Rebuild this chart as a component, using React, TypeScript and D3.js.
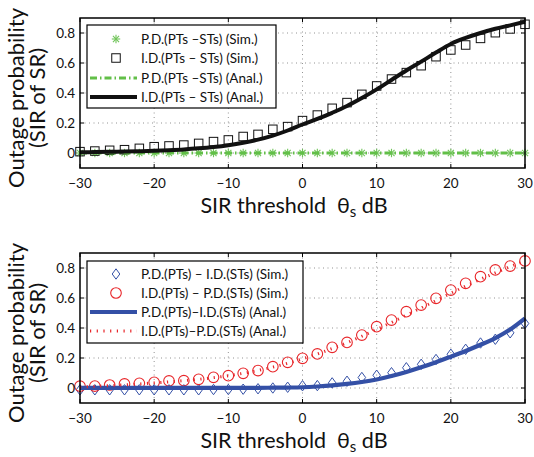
import React from "react";
import * as d3 from "d3";

const thetaDb = [-30, -28, -26, -24, -22, -20, -18, -16, -14, -12, -10, -8, -6, -4, -2, 0, 2, 4, 6, 8, 10, 12, 14, 16, 18, 20, 22, 24, 26, 28, 30];

// Top panel
const pdSimTop = [0, 0, 0, 0, 0, 0, 0, 0, 0, 0, 0, 0, 0, 0, 0, 0, 0, 0, 0, 0, 0, 0, 0, 0, 0, 0, 0, 0, 0, 0, 0];
const idSimTop = [0.009, 0.013, 0.018, 0.022, 0.031, 0.042, 0.047, 0.053, 0.064, 0.076, 0.087, 0.11, 0.124, 0.158, 0.176, 0.216, 0.253, 0.298, 0.336, 0.391, 0.447, 0.493, 0.536, 0.582, 0.642, 0.687, 0.72, 0.764, 0.802, 0.827, 0.858];
const pdAnalTop = [0, 0, 0, 0, 0, 0, 0, 0, 0, 0, 0, 0, 0, 0, 0, 0, 0, 0, 0, 0, 0, 0, 0, 0, 0, 0, 0, 0, 0, 0, 0];
const idAnalTop = [0.005, 0.006, 0.008, 0.01, 0.012, 0.015, 0.019, 0.024, 0.031, 0.04, 0.052, 0.068, 0.089, 0.116, 0.15, 0.19, 0.227, 0.268, 0.313, 0.366, 0.424, 0.487, 0.55, 0.609, 0.67, 0.727, 0.767, 0.8, 0.828, 0.851, 0.875];

// Bottom panel
const pdIdSim = [-0.012, -0.012, -0.012, -0.012, -0.012, -0.012, -0.012, -0.012, -0.012, -0.01, -0.01, -0.008, -0.005, 0.0, 0.005, 0.015, 0.016, 0.034, 0.045, 0.07, 0.085, 0.102, 0.135, 0.158, 0.19, 0.225, 0.258, 0.3, 0.325, 0.368, 0.43];
const idPdSim = [0.012, 0.013, 0.02, 0.027, 0.031, 0.038, 0.047, 0.049, 0.058, 0.071, 0.082, 0.098, 0.116, 0.142, 0.171, 0.198, 0.227, 0.271, 0.304, 0.353, 0.409, 0.453, 0.509, 0.553, 0.598, 0.653, 0.698, 0.742, 0.787, 0.813, 0.847];
const pdIdAnal = [0.001, 0.001, 0.001, 0.001, 0.001, 0.001, 0.001, 0.001, 0.001, 0.001, 0.001, 0.001, 0.001, 0.002, 0.003, 0.005, 0.01, 0.017, 0.027, 0.04, 0.057, 0.08, 0.107, 0.138, 0.172, 0.209, 0.247, 0.288, 0.333, 0.39, 0.464];
const idPdAnal = [0.007, 0.011, 0.016, 0.021, 0.027, 0.034, 0.041, 0.049, 0.058, 0.069, 0.082, 0.098, 0.117, 0.139, 0.165, 0.194, 0.227, 0.263, 0.302, 0.345, 0.39, 0.437, 0.485, 0.534, 0.583, 0.632, 0.679, 0.725, 0.768, 0.809, 0.847];

const xTicks = [-30, -20, -10, 0, 10, 20, 30];
const yTicks = [0, 0.2, 0.4, 0.6, 0.8];
const xDomain = [-30, 30];
const yDomain = [-0.1, 0.9];

const topLegend = ["P.D.(PTs \u2013STs) (Sim.)", "I.D.(PTs \u2013 STs) (Sim.)", "P.D.(PTs \u2013STs) (Anal.)", "I.D.(PTs \u2013 STs) (Anal.)"];
const bottomLegend = ["P.D.(PTs) \u2013 I.D.(STs) (Sim.)", "I.D.(PTs) \u2013 P.D.(STs) (Sim.)", "P.D.(PTs)\u2013I.D.(STs) (Anal.)", "I.D.(PTs)\u2013P.D.(STs) (Anal.)"];

const FONT = "Lato, 'Open Sans', sans-serif";
const GREEN = "#62bf48";
const BLUE = "#3450a6";
const RED = "#e8262a";

const W = 534;
const H = 457;
const LEFT = 80;
const RIGHT = 525;

type MarkerKind = "star" | "square" | "diamond" | "circle";

function Marker({ kind, x, y }: { kind: MarkerKind; x: number; y: number }) {
  if (kind === "star") {
    const r = 4.2;
    const d = r * 0.72;
    return (
      <g stroke={GREEN} strokeWidth={1.1} opacity={0.9}>
        <line x1={x - r} y1={y} x2={x + r} y2={y} />
        <line x1={x} y1={y - r} x2={x} y2={y + r} />
        <line x1={x - d} y1={y - d} x2={x + d} y2={y + d} />
        <line x1={x - d} y1={y + d} x2={x + d} y2={y - d} />
      </g>
    );
  }
  if (kind === "square") {
    const s = 8.5;
    return <rect x={x - s / 2} y={y - s / 2} width={s} height={s} fill="none" stroke="#111" strokeWidth={1} />;
  }
  if (kind === "diamond") {
    const w = 3.8;
    const h = 5.2;
    return <path d={`M${x},${y - h}L${x + w},${y}L${x},${y + h}L${x - w},${y}Z`} fill="none" stroke={BLUE} strokeWidth={1} />;
  }
  return <circle cx={x} cy={y} r={5.3} fill="none" stroke={RED} strokeWidth={1.1} />;
}

type Series =
  | { type: "marker"; kind: MarkerKind; values: number[] }
  | { type: "line"; values: number[]; color: string; width: number; dash?: string };

function Panel({ top, bottom, series, legend, legendBox }: {
  top: number;
  bottom: number;
  series: Series[];
  legend: string[];
  legendBox: { x: number; y: number; w: number; h: number; rows: number[] };
}) {
  const x = d3.scaleLinear().domain(xDomain).range([LEFT, RIGHT]);
  const y = d3.scaleLinear().domain(yDomain).range([bottom, top]);
  const lineGen = (vals: number[]) =>
    d3.line<number>().x((_, i) => x(thetaDb[i])).y((v) => y(v)).curve(d3.curveMonotoneX)(vals) || "";

  return (
    <g>
      {/* grid */}
      <g stroke="#777" strokeWidth={0.8} strokeDasharray="1,3.5">
        {xTicks.slice(1, -1).map((t) => (
          <line key={"gx" + t} x1={x(t)} x2={x(t)} y1={top} y2={bottom} />
        ))}
        {yTicks.map((t) => (
          <line key={"gy" + t} x1={LEFT} x2={RIGHT} y1={y(t)} y2={y(t)} />
        ))}
      </g>
      {/* ticks */}
      <g stroke="#000" strokeWidth={1}>
        {xTicks.map((t) => (
          <g key={"tx" + t}>
            <line x1={x(t)} x2={x(t)} y1={bottom} y2={bottom - 4} />
            <line x1={x(t)} x2={x(t)} y1={top} y2={top + 4} />
          </g>
        ))}
        {yTicks.map((t) => (
          <g key={"ty" + t}>
            <line x1={LEFT} x2={LEFT + 4} y1={y(t)} y2={y(t)} />
            <line x1={RIGHT} x2={RIGHT - 4} y1={y(t)} y2={y(t)} />
          </g>
        ))}
      </g>
      {/* series */}
      {series.map((s, si) =>
        s.type === "line" ? (
          <path key={si} d={lineGen(s.values)} fill="none" stroke={s.color} strokeWidth={s.width} strokeDasharray={s.dash} />
        ) : (
          <g key={si}>
            {s.values.map((v, i) => (
              <Marker key={i} kind={s.kind} x={x(thetaDb[i])} y={y(v)} />
            ))}
          </g>
        )
      )}
      {/* frame */}
      <rect x={LEFT} y={top} width={RIGHT - LEFT} height={bottom - top} fill="none" stroke="#000" strokeWidth={1.5} />
      {/* tick labels */}
      <g fontFamily={FONT} fontSize={13.5} fill="#111">
        {xTicks.map((t) => (
          <text key={"lx" + t} x={x(t)} y={bottom + 20} textAnchor="middle">
            {t < 0 ? "\u2212" + Math.abs(t) : String(t)}
          </text>
        ))}
        {yTicks.map((t) => (
          <text key={"ly" + t} x={LEFT - 5} y={y(t) + 4.8} textAnchor="end">
            {t === 0 ? "0" : t.toFixed(1)}
          </text>
        ))}
      </g>
      {/* legend */}
      <rect x={legendBox.x} y={legendBox.y} width={legendBox.w} height={legendBox.h} fill="#fff" stroke="#000" strokeWidth={1.2} />
      {legend.map((label, i) => {
        const s = series[i];
        const ry = legendBox.rows[i];
        const mx = legendBox.x + 29;
        return (
          <g key={"lg" + i}>
            {s.type === "marker" ? (
              <Marker kind={s.kind} x={mx} y={ry} />
            ) : (
              <line x1={legendBox.x + 3} x2={legendBox.x + 50} y1={ry} y2={ry} stroke={s.color} strokeWidth={s.width} strokeDasharray={s.dash} />
            )}
            <text x={legendBox.x + 54} y={ry + 4.8} fontFamily={FONT} fontSize={13.5} fill="#111">
              {label}
            </text>
          </g>
        );
      })}
      {/* x label */}
      <text x={294} y={bottom + 45} textAnchor="middle" fontFamily={FONT} fontSize={21.5} fill="#111">
        SIR threshold{"\u2002"}θ
        <tspan fontSize={15} dy={4}>s</tspan>
        <tspan dy={-4}> dB</tspan>
      </text>
      {/* y label */}
      <g transform={`translate(24, ${(top + bottom) / 2 + 5}) rotate(-90)`}>
        <text x={0} y={0} textAnchor="middle" fontFamily={FONT} fontSize={22} fill="#111">
          Outage probability
        </text>
        <text x={0} y={21} textAnchor="middle" fontFamily={FONT} fontSize={22} fill="#111">
          (SIR of SR)
        </text>
      </g>
    </g>
  );
}

export default function App() {
  const topSeries: Series[] = [
    { type: "marker", kind: "star", values: pdSimTop },
    { type: "marker", kind: "square", values: idSimTop },
    { type: "line", values: pdAnalTop, color: GREEN, width: 3, dash: "7,3,1.5,3" },
    { type: "line", values: idAnalTop, color: "#111", width: 4 },
  ];
  const bottomSeries: Series[] = [
    { type: "marker", kind: "diamond", values: pdIdSim },
    { type: "marker", kind: "circle", values: idPdSim },
    { type: "line", values: pdIdAnal, color: BLUE, width: 4.2 },
    { type: "line", values: idPdAnal, color: RED, width: 3, dash: "1.2,5.5" },
  ];
  return (
    <svg width={W} height={H} style={{ position: "absolute", left: 0, top: 0, background: "#fff" }}>
      <Panel
        top={18}
        bottom={168}
        series={topSeries}
        legend={topLegend}
        legendBox={{ x: 87, y: 25, w: 189, h: 83, rows: [39, 58, 78, 97] }}
      />
      <Panel
        top={253}
        bottom={403}
        series={bottomSeries}
        legend={bottomLegend}
        legendBox={{ x: 87, y: 261, w: 216, h: 82, rows: [274, 293, 312, 331] }}
      />
    </svg>
  );
}
